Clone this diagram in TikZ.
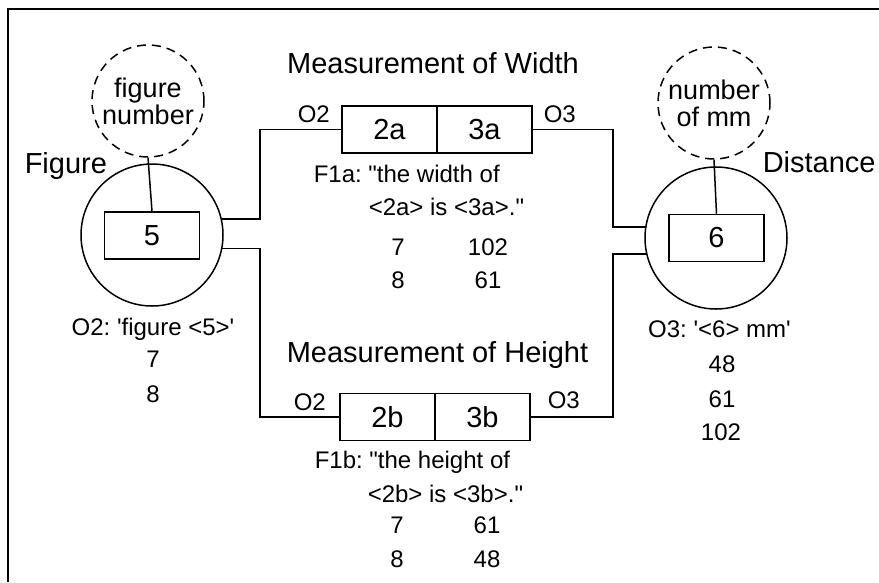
\documentclass[tikz,border=0pt]{standalone}
\usepackage{fontspec}
\setmainfont{Liberation Sans}
\newcommand{\dq}{\textquotedbl}
\newcommand{\sq}{\textquotesingle}
\begin{document}
\frenchspacing
\begin{tikzpicture}[x=1pt,y=-1pt,line width=1.5pt,
  lbl/.style={inner sep=0pt,font=\fontsize{24}{28}\selectfont},
  biglbl/.style={inner sep=0pt,font=\fontsize{29}{32}\selectfont},
  valbox/.style={draw,rectangle,minimum width=95pt,minimum height=47pt,inner sep=0pt,font=\fontsize{29}{32}\selectfont},
  ent/.style={draw,circle,minimum size=142pt,inner sep=0pt},
  ref/.style={draw,circle,dash pattern=on 9pt off 6pt,minimum size=112pt,inner sep=0pt,align=center,font=\fontsize{27}{27}\selectfont}]
\useasboundingbox (0,0) rectangle (879,582);
\draw (879,9) -- (8,9) -- (8,582);
% left entity
\node[ref] (fn) at (148,101) {figure\\number};
\node[ent] (fig) at (152,235) {};
\node[valbox] (b5) at (152,235.5) {5};
\draw (fn.south) -- (b5.north);
\node[biglbl,anchor=base west] (figl) at (24,173) {Figure};
\node[lbl,anchor=base] (o2f) at (153,335) {O2: \sq figure <5>\sq};
\node[lbl,anchor=base] (f7) at (153,367) {7};
\node[lbl,anchor=base] (f8) at (153,402) {8};
% right entity
\node[ref] (dn) at (714,103) {number\\of mm};
\node[ent] (dist) at (716,238) {};
\node[valbox] (b6) at (716.5,238) {6};
\draw (dn.south) -- (b6.north);
\node[biglbl,anchor=base west] (distl) at (762,172) {Distance};
\node[lbl,anchor=base] (o3d) at (719.5,337) {O3: \sq<6> mm\sq};
\node[lbl,anchor=base] (d48) at (722,372) {48};
\node[lbl,anchor=base] (d61) at (722,407) {61};
\node[lbl,anchor=base] (d102) at (721,440) {102};
% width fact
\node[biglbl,anchor=base] (mw) at (433,73) {Measurement of Width};
\node[valbox] (b2a) at (389.5,129.5) {2a};
\node[valbox] (b3a) at (484.5,129.5) {3a};
\node[lbl,anchor=base west] (o2a) at (297,122) {O2};
\node[lbl,anchor=base west] (o3a) at (543,122) {O3};
\node[lbl,anchor=base west] (f1a) at (313,182) {F1a: \dq the width of};
\node[lbl,anchor=base west] (f1a2) at (368,215) {<2a> is <3a>.\dq};
\node[lbl,anchor=base] (wa7) at (398,255) {7};
\node[lbl,anchor=base] (wa102) at (488,255) {102};
\node[lbl,anchor=base] (wa8) at (398,288) {8};
\node[lbl,anchor=base] (wa61) at (488,288) {61};
% height fact
\node[biglbl,anchor=base] (mh) at (437.5,362) {Measurement of Height};
\node[valbox] (b2b) at (387.5,417) {2b};
\node[valbox] (b3b) at (482.5,417) {3b};
\node[lbl,anchor=base west] (o2b) at (293,410) {O2};
\node[lbl,anchor=base west] (o3b) at (547,408) {O3};
\node[lbl,anchor=base west] (f1b) at (314,468) {F1b: \dq the height of};
\node[lbl,anchor=base west] (f1b2) at (367,502) {<2b> is <3b>.\dq};
\node[lbl,anchor=base] (hb7) at (397,533) {7};
\node[lbl,anchor=base] (hb61) at (487,533) {61};
\node[lbl,anchor=base] (hb8) at (397,567) {8};
\node[lbl,anchor=base] (hb48) at (487,567) {48};
% connectors
\coordinate (cl) at (260,0);
\coordinate (cr) at (613,0);
\draw (fig.13) -- (fig.13 -| cl) |- (b2a.west);
\draw (fig.-11) -- (fig.-11 -| cl) |- (b2b.west);
\draw (b3a.east) -| (dist.171 -| cr) -- (dist.171);
\draw (b3b.east) -| (dist.193 -| cr) -- (dist.193);
\end{tikzpicture}
\end{document}
